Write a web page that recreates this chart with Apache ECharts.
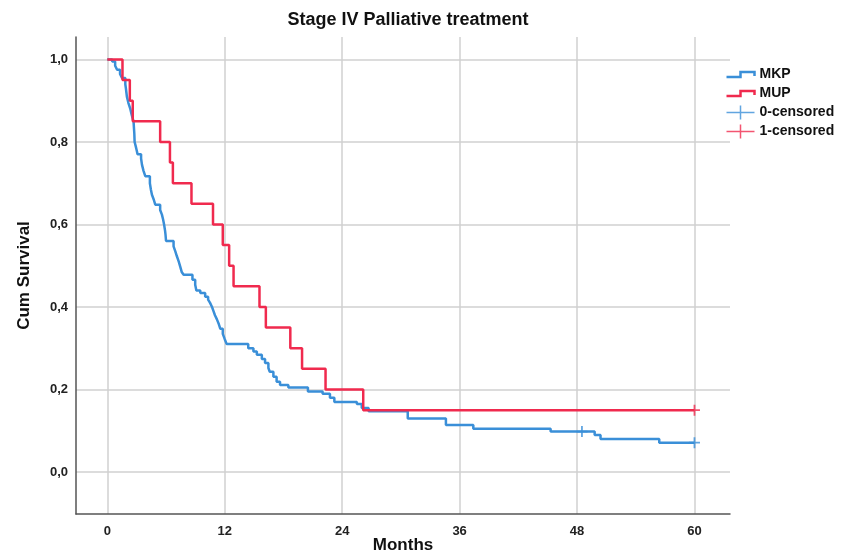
<!DOCTYPE html>
<html>
<head>
<meta charset="utf-8">
<script src="https://cdn.jsdelivr.net/npm/echarts@6/dist/echarts.min.js"></script>
<style>html,body{margin:0;padding:0;background:#fff;}#c{width:848px;height:554px;}</style>
</head>
<body>
<div id="c"></div>
<script>
// ---- data ----
var xTicks = [0, 12, 24, 36, 48, 60];
var yTicks = [0, 0.2, 0.4, 0.6, 0.8, 1.0];

var mkpTime = [0, 0.5, 0.8, 1.0, 1.3, 1.5, 1.84, 1.9, 1.95, 2.0, 2.15, 2.35, 2.5, 2.68, 2.72, 2.76, 2.79, 2.9, 3.0, 3.09, 3.45, 3.54, 3.7, 3.88, 4.35, 4.45, 4.56, 4.75, 4.9, 5.4, 5.58, 5.7, 5.8, 5.9, 5.95, 6.0, 6.77, 6.95, 7.11, 7.3, 7.45, 7.6, 7.8, 8.7, 8.98, 9.1, 9.5, 10.0, 10.3, 10.5, 10.7, 10.85, 11.0, 11.2, 11.4, 11.55, 11.8, 12.0, 12.2, 14.4, 14.93, 15.28, 15.79, 16.12, 16.46, 16.6, 16.97, 17.3, 17.65, 18.5, 20.5, 22.0, 22.75, 23.2, 25.5, 26.0, 26.7, 30.7, 34.6, 37.4, 45.3, 49.8, 50.4, 56.4, 60];
var mkpSurv = [1.0, 0.995, 0.985, 0.975, 0.965, 0.955, 0.94, 0.93, 0.92, 0.91, 0.895, 0.88, 0.865, 0.85, 0.835, 0.82, 0.80, 0.79, 0.78, 0.77, 0.76, 0.745, 0.73, 0.717, 0.70, 0.685, 0.672, 0.66, 0.648, 0.635, 0.624, 0.612, 0.60, 0.585, 0.575, 0.56, 0.547, 0.535, 0.523, 0.51, 0.498, 0.485, 0.478, 0.466, 0.454, 0.44, 0.434, 0.425, 0.418, 0.41, 0.40, 0.39, 0.38, 0.37, 0.358, 0.347, 0.335, 0.322, 0.31, 0.30, 0.292, 0.284, 0.274, 0.264, 0.252, 0.243, 0.231, 0.219, 0.211, 0.205, 0.195, 0.19, 0.18, 0.17, 0.165, 0.155, 0.147, 0.13, 0.114, 0.105, 0.098, 0.09, 0.08, 0.071, 0.071];

var mupTime = [0, 1.55, 2.3, 2.6, 5.4, 6.4, 6.7, 8.6, 10.8, 11.8, 12.45, 12.9, 15.55, 16.2, 18.7, 19.9, 22.3, 26.15, 60];
var mupSurv = [1.0, 0.95, 0.90, 0.85, 0.80, 0.75, 0.70, 0.65, 0.60, 0.55, 0.50, 0.45, 0.40, 0.35, 0.30, 0.25, 0.20, 0.15, 0.15];

var mkpCensTime = [48.5, 60];
var mkpCensSurv = [0.098, 0.071];
var mupCensTime = [60];
var mupCensSurv = [0.15];

// ---- chart ----
var BLUE = '#3A8FD8';
var RED = '#F02A4E';
var FONT = '"Liberation Sans", Arial, sans-serif';

function zip(a, b) { return a.map(function (v, i) { return [v, b[i]]; }); }

var stepIcon = 'path://M0,0M0,9.5H14V4.5H28V8.5M28,14';
var plusIcon = 'path://M0,7H28M14,0V14';
var plusSym = 'path://M0,5H10M5,0V10';

var chart = echarts.init(document.getElementById('c'), null, { renderer: 'canvas' });
chart.setOption({
  animation: false,
  backgroundColor: '#ffffff',
  title: {
    text: 'Stage IV Palliative treatment',
    left: 403, top: 6, textAlign: 'center',
    textStyle: { fontFamily: FONT, fontSize: 18, fontWeight: 'bold', color: '#111' }
  },
  grid: { left: 76, right: 118, top: 37, bottom: 40, containLabel: false, outerBoundsMode: 'none' },
  legend: {
    orient: 'vertical', left: 724, top: 65, padding: 0, itemGap: 0, itemWidth: 28, itemHeight: 14,
    symbolKeepAspect: true,
    textStyle: { fontFamily: FONT, fontSize: 14, lineHeight: 15, fontWeight: 'bold', color: '#111' },
    data: [
      { name: 'MKP', icon: stepIcon, itemStyle: { color: 'none', borderColor: BLUE, borderWidth: 2.5 } },
      { name: 'MUP', icon: stepIcon, itemStyle: { color: 'none', borderColor: RED, borderWidth: 2.5 } },
      { name: '0-censored', icon: plusIcon, itemStyle: { color: 'none', borderColor: BLUE, borderWidth: 1.5 } },
      { name: '1-censored', icon: plusIcon, itemStyle: { color: 'none', borderColor: RED, borderWidth: 1.5 } }
    ]
  },
  xAxis: {
    type: 'value', min: -3.2, max: 63.63,
    name: 'Months', nameLocation: 'middle', nameGap: 23, nameMoveOverlap: false,
    nameTextStyle: { fontFamily: FONT, fontSize: 17, fontWeight: 'bold', color: '#111' },
    axisLine: { show: true, onZero: false, lineStyle: { color: '#555', width: 1.5 } },
    axisTick: { show: false, customValues: xTicks },
    axisLabel: { customValues: xTicks, margin: 11, fontFamily: FONT, fontSize: 13, fontWeight: 'bold', color: '#222' },
    splitLine: { show: true, lineStyle: { color: '#d0d0d0', width: 1.5 } }
  },
  yAxis: {
    type: 'value', min: -0.1018, max: 1.0545,
    name: 'Cum Survival', nameLocation: 'middle', nameGap: 43,
    nameTextStyle: { fontFamily: FONT, fontSize: 17, fontWeight: 'bold', color: '#111' },
    axisLine: { show: true, onZero: false, lineStyle: { color: '#555', width: 1.5 } },
    axisTick: { show: false, customValues: yTicks },
    axisLabel: {
      customValues: yTicks, margin: 8, fontFamily: FONT, fontSize: 13, fontWeight: 'bold', color: '#222',
      formatter: function (v) { return v.toFixed(1).replace('.', ','); }
    },
    splitLine: { show: true, lineStyle: { color: '#d0d0d0', width: 1.5 } }
  },
  series: [
    { name: 'MKP', type: 'line', step: 'end', symbol: 'none', data: zip(mkpTime, mkpSurv),
      lineStyle: { color: BLUE, width: 2.5 }, itemStyle: { color: BLUE }, z: 3 },
    { name: 'MUP', type: 'line', step: 'end', symbol: 'none', data: zip(mupTime, mupSurv),
      lineStyle: { color: RED, width: 2.5 }, itemStyle: { color: RED }, z: 4 },
    { name: '0-censored', type: 'scatter', symbol: plusSym, symbolSize: 11, data: zip(mkpCensTime, mkpCensSurv),
      itemStyle: { color: 'none', borderColor: BLUE, borderWidth: 1.8 }, z: 5 },
    { name: '1-censored', type: 'scatter', symbol: plusSym, symbolSize: 11, data: zip(mupCensTime, mupCensSurv),
      itemStyle: { color: 'none', borderColor: RED, borderWidth: 1.8 }, z: 5 }
  ]
});
</script>
</body>
</html>
